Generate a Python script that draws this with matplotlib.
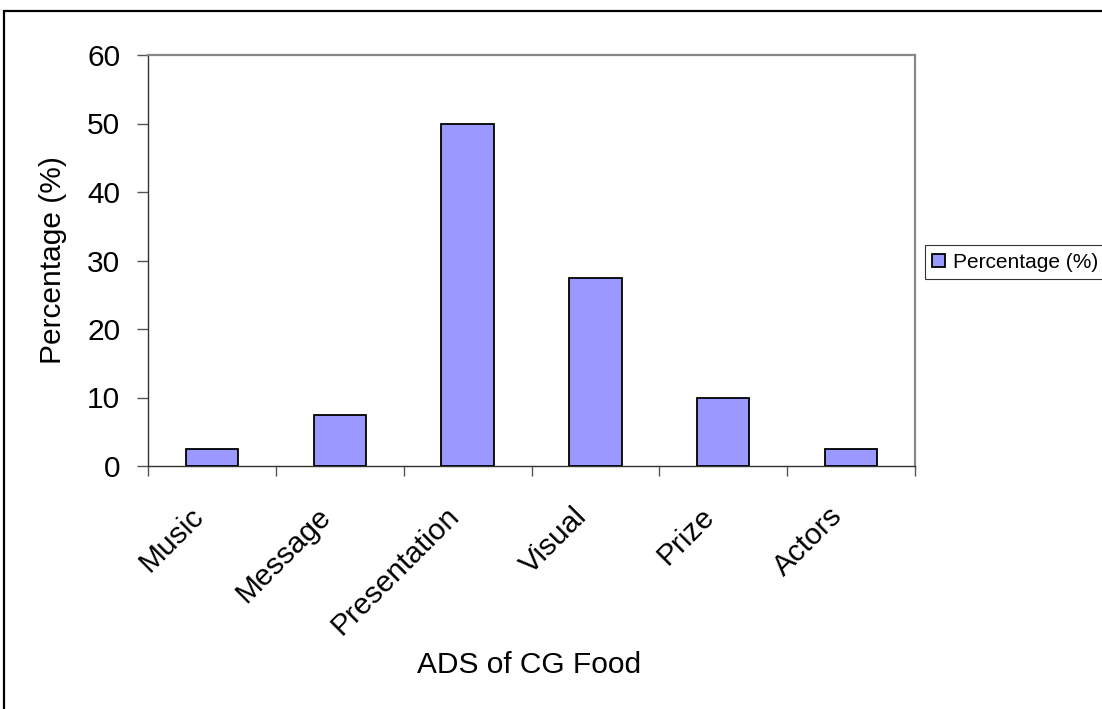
import matplotlib.pyplot as plt
from matplotlib.patches import Rectangle
from matplotlib.ticker import FixedLocator
from matplotlib.transforms import ScaledTranslation

plt.rcParams['font.family'] = ['Liberation Sans', 'DejaVu Sans']

categories = ["Music", "Message", "Presentation", "Visual", "Prize", "Actors"]
percentage = [2.5, 7.5, 50, 27.5, 10, 2.5]
y_ticks = [0, 10, 20, 30, 40, 50, 60]

fig = plt.figure(figsize=(11.02, 7.09), dpi=100)
ax = fig.add_axes([148 / 1102, 1 - 466 / 709, 767 / 1102, 411 / 709])

x = range(len(categories))
ax.bar(x, percentage, width=0.41, color="#9999FF", edgecolor="black",
       linewidth=1.3, label="Percentage (%)", zorder=3)

ax.set_xlim(-0.5, len(categories) - 0.5)
ax.set_ylim(0, 60)
ax.set_yticks(y_ticks)
ax.tick_params(axis="y", labelsize=21.5, length=8, width=1, pad=12, color="#555555")

# category labels at centres, tick marks on the boundaries
ax.set_xticks(list(x))
ax.set_xticklabels(categories, rotation=45, ha="right", va="center",
                   rotation_mode="anchor", fontsize=21.5)
ax.tick_params(axis="x", which="major", length=0, pad=33)
shift = ScaledTranslation(-13 / 100, 0, fig.dpi_scale_trans)
for lab in ax.get_xticklabels():
    lab.set_transform(lab.get_transform() + shift)
ax.xaxis.set_minor_locator(FixedLocator([i - 0.5 for i in range(len(categories) + 1)]))
ax.tick_params(axis="x", which="minor", length=7, width=1, color="#555555")

for side in ["left", "bottom"]:
    ax.spines[side].set_color("#333333")
    ax.spines[side].set_linewidth(1)
for side in ["top", "right"]:
    ax.spines[side].set_color("#888888")
    ax.spines[side].set_linewidth(1.6)

ax.set_ylabel("Percentage (%)", fontsize=21.5)
ax.yaxis.set_label_coords(-0.106, 0.5)
ax.set_xlabel("ADS of CG Food", fontsize=21.5)
ax.xaxis.set_label_coords(0.497, -0.45)

leg = fig.legend(loc="center left", bbox_to_anchor=(925 / 1102, 1 - 262 / 709),
                 fontsize=15, frameon=True, fancybox=False, edgecolor="black",
                 handlelength=0.6, handleheight=0.6, handletextpad=0.4,
                 borderpad=0.35, borderaxespad=0)
leg.get_frame().set_linewidth(0.8)

# outer frame of the embedded chart
fig.add_artist(Rectangle((4 / 1102, -0.1), 1.2, 1.1 - 11 / 709,
                         transform=fig.transFigure, fill=False,
                         edgecolor="black", linewidth=1.6))

fig.savefig("out.png", dpi=100)
